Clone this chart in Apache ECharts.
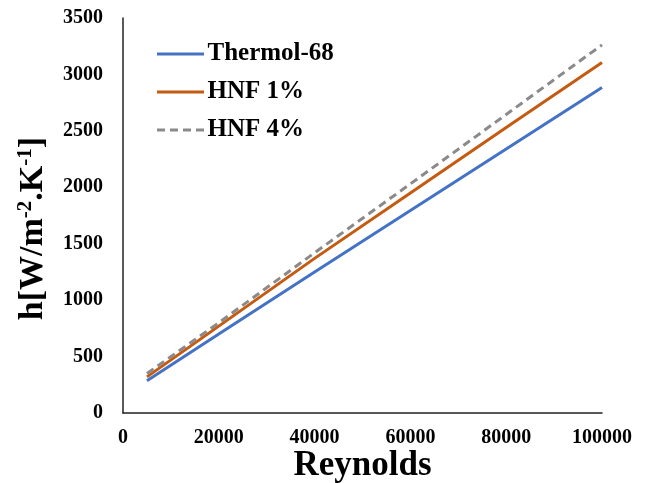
<!DOCTYPE html>
<html>
<head>
<meta charset="utf-8">
<script src="https://cdn.jsdelivr.net/npm/echarts@6/dist/echarts.min.js"></script>
<style>
  html, body { margin: 0; padding: 0; background: #fff; }
  #chart { width: 648px; height: 483px; }
</style>
</head>
<body>
<div id="chart"></div>
<script>
// Reynolds number vs heat transfer coefficient
const reynolds = [5000, 20000, 40000, 60000, 80000, 100000];
const thermol68 = [285, 700, 1250, 1795, 2340, 2885];
const hnf1 = [320, 770, 1370, 1950, 2530, 3105];
const hnf4 = [350, 800, 1420, 2030, 2645, 3262];
const seriesNames = ['Thermol-68', 'HNF 1%', 'HNF 4%'];

const font = 'Liberation Serif';
const chart = echarts.init(document.getElementById('chart'));

const pair = (ys) => reynolds.map((x, i) => [x, ys[i]]);
const plain = (v) => String(v);

// legend line swatches (solid, solid, dashed)
const solidIcon = 'path://M0,0H47V3H0Z';
const dashIcon = 'path://M0,0H8V3H0Z M13,0H21V3H13Z M26,0H34V3H26Z M39,0H47V3H39Z';

chart.setOption({
  animation: false,
  textStyle: { fontFamily: font },
  grid: { left: 123, right: 46, top: 18, bottom: 70, outerBoundsMode: 'none', containLabel: false },
  legend: {
    left: 157,
    top: 40,
    padding: 0,
    orient: 'vertical',
    itemGap: 10,
    itemWidth: 48,
    itemHeight: 3,
    textStyle: { fontFamily: font, fontWeight: 'bold', fontSize: 25, color: '#000', padding: [0, 0, 0, -2], lineHeight: 28 },
    data: [
      { name: seriesNames[0], icon: solidIcon },
      { name: seriesNames[1], icon: solidIcon },
      { name: seriesNames[2], icon: dashIcon }
    ]
  },
  xAxis: {
    type: 'value',
    min: 0,
    max: 100000,
    interval: 20000,
    name: 'Reynolds',
    nameLocation: 'middle',
    nameGap: 35,
    nameMoveOverlap: false,
    nameTextStyle: { fontFamily: font, fontWeight: 'bold', fontSize: 35, color: '#000' },
    axisLine: { lineStyle: { color: '#222', width: 1.5 } },
    axisTick: { show: false },
    splitLine: { show: false },
    axisLabel: { fontFamily: font, fontWeight: 'bold', fontSize: 20, color: '#000', margin: 15, formatter: plain }
  },
  yAxis: {
    type: 'value',
    min: 0,
    max: 3500,
    interval: 500,
    name: '{b|h[W/m}{s|-2}{b|.K}{s|-1}{b|]}',
    nameLocation: 'middle',
    nameGap: 73,
    nameMoveOverlap: false,
    nameTextStyle: {
      padding: [0, 26, 0, 0],
      rich: {
        b: { fontFamily: font, fontWeight: 'bold', fontSize: 34, color: '#000', verticalAlign: 'bottom' },
        s: { fontFamily: font, fontWeight: 'bold', fontSize: 21, color: '#000', verticalAlign: 'top', padding: [0, 0, 14, 0] }
      }
    },
    axisLine: { show: true, lineStyle: { color: '#222', width: 1.5 } },
    axisTick: { show: false },
    splitLine: { show: false },
    axisLabel: { fontFamily: font, fontWeight: 'bold', fontSize: 20, color: '#000', margin: 20, formatter: plain }
  },
  series: [
    {
      name: seriesNames[0],
      type: 'line',
      symbol: 'none',
      data: pair(thermol68),
      itemStyle: { color: '#4472c4' },
      lineStyle: { color: '#4472c4', width: 3 }
    },
    {
      name: seriesNames[1],
      type: 'line',
      symbol: 'none',
      data: pair(hnf1),
      itemStyle: { color: '#c55a11' },
      lineStyle: { color: '#c55a11', width: 3 }
    },
    {
      name: seriesNames[2],
      type: 'line',
      symbol: 'none',
      data: pair(hnf4),
      itemStyle: { color: '#8a8a8a' },
      lineStyle: { color: '#8a8a8a', width: 3, type: [8, 5] }
    }
  ]
});
</script>
</body>
</html>
